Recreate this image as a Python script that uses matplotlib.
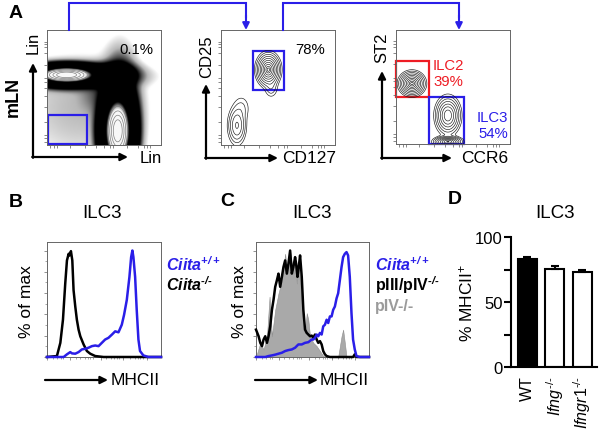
import numpy as np
import matplotlib
matplotlib.use('Agg')
import matplotlib.pyplot as plt
from matplotlib.patches import Rectangle, FancyArrowPatch
from matplotlib.lines import Line2D

plt.rcParams['font.family'] = ['Liberation Sans', 'DejaVu Sans']
plt.rcParams['mathtext.fontset'] = 'custom'
plt.rcParams['mathtext.rm'] = 'Liberation Sans'
plt.rcParams['mathtext.it'] = 'Liberation Sans:italic'
plt.rcParams['mathtext.bf'] = 'Liberation Sans:bold'
plt.rcParams['mathtext.default'] = 'regular'
HAS_BFIT = True
try:
    plt.rcParams['mathtext.bfit'] = 'Liberation Sans:italic:bold'
except KeyError:
    HAS_BFIT = False

# ------------------------------------------------------------------ data
# Panel A: populations (cx, cy, sx, sy, amplitude) in axis-fraction units
lin_pops = [(0.17, 0.61, 0.13, 0.036, 1.0),     # Lin+ band
            (0.25, 0.60, 0.21, 0.048, 0.06),    # band halo
            (0.62, 0.12, 0.062, 0.15, 1.0),     # Lin+ (x) population
            (0.64, 0.28, 0.070, 0.20, 0.05),    # its halo
            (0.60, 0.61, 0.09, 0.05, 0.04),     # corner
            (0.48, 0.45, 0.10, 0.10, 0.0025),   # inner shoulder
            (0.30, 0.33, 0.30, 0.25, 0.0009)]   # scattered cells
cd25_pops = [(0.415, 0.655, 0.042, 0.058, 1.0),
             (0.44, 0.50, 0.030, 0.045, 0.06),
             (0.14, 0.17, 0.036, 0.075, 0.25),
             (0.18, 0.32, 0.040, 0.060, 0.04)]
st2_pops = [(0.14, 0.53, 0.045, 0.042, 1.0),
            (0.455, 0.25, 0.045, 0.068, 0.7),
            (0.455, 0.02, 0.050, 0.020, 0.9)]
gate_lin = (0.01, 0.01, 0.34, 0.25)
gate_cd25 = (0.28, 0.476, 0.27, 0.344)
gate_ilc2 = (0.0, 0.41, 0.29, 0.32)
gate_ilc3 = (0.29, 0.0, 0.31, 0.41)
pct_lin = '0.1%'
pct_cd25 = '78%'
pct_ilc2 = '39%'
pct_ilc3 = '54%'

# Panel B histograms (MHCII scale 0-100, % of max)
b_ko_x = [0, 8.7, 11.7, 14.0, 16.0, 17.5, 19.0, 19.8, 21.0, 22.2, 23.3, 24.8, 26.2,
          27.7, 29.2, 32.1, 35.0, 37.9, 42.3, 49.6, 100]
b_ko_y = [0, 0.9, 13.3, 35, 69, 90.7, 97, 95.4, 99.4, 90.7, 62.8, 47.4, 35,
          25.7, 19.5, 11.8, 5.6, 3.1, 0.9, 0, 0]
b_wt_x = [0, 14.6, 17.5, 20.4, 21.9, 24.8, 27.7, 30.6, 33.5, 36.4, 39.4, 42.3, 45.2,
          48.1, 51.0, 53.9, 56.9, 59.8, 62.7, 65.6, 67.6, 70.0, 72.3, 73.8, 74.9,
          75.8, 77.3, 78.7, 80.2, 81.6, 84.5, 88.9, 100]
b_wt_y = [0, 0, 2.5, 4.6, 3.4, 3.1, 4.6, 7.1, 7.7, 8.7, 10.2, 10.8, 10.2,
          13.3, 16.4, 18, 21, 24.1, 23.2, 30.3, 39.6, 53.6, 75.2, 93.8, 100,
          93.8, 75.2, 44.3, 16.4, 5.6, 1.5, 0, 0]

# Panel C histograms
c_ko_x = [0, 2.3, 3.8, 5.3, 6.7, 8.2, 9.7, 11.1, 12.6, 14.1, 15.5, 17.0, 18.5, 19.9,
          21.4, 22.9, 24.3, 25.8, 27.3, 28.7, 30.2, 31.7, 33.1, 34.6, 35.5, 36.7,
          37.8, 39.0, 40.5, 41.9, 43.4, 44.9, 46.3, 47.8, 49.3, 50.7, 52.2, 53.7,
          55.1, 56.6, 58.1, 59.5, 61.0, 62.5, 65.4, 85.9, 87.4, 88.9, 100]
c_ko_y = [25.7, 19.5, 13.3, 10.2, 16.4, 19.5, 13.3, 19.5, 28.8, 44.3, 53.6, 65.9, 72.1,
          78.3, 65.9, 75.2, 84.5, 90.7, 78.3, 87.6, 100, 78.3, 84.5, 93.8, 87.6, 75.2,
          84.5, 95.4, 75.2, 44.3, 25.7, 22.6, 21.1, 19.5, 20.1, 18, 21.1, 16.4,
          13.3, 14.9, 11.8, 5.6, 2.5, 0.9, 0, 0, 2.5, 0, 0]
c_piv_x = [0, 3.8, 6.7, 9.7, 12.0, 14.1, 17.0, 19.9, 22.9, 25.8, 27.3, 28.7, 30.2,
           31.7, 33.1, 34.6, 36.1, 37.5, 39.0, 40.5, 41.9, 43.4, 44.9, 46.3, 47.8,
           50.7, 53.7, 56.6, 59.5, 62.5, 72.7, 75.7, 77.1, 78.6, 80.1, 100]
c_piv_y = [0, 13.3, 7.1, 19.5, 56.7, 19.5, 44.3, 59.8, 72.1, 96.9, 81.4, 90.7, 100,
           87.6, 78.3, 90.7, 69, 87.6, 75.2, 50.5, 25.7, 22.6, 41.2, 35, 19.5,
           13.3, 10.2, 5.6, 0.9, 0, 0, 19.5, 25.7, 13.3, 0, 0]
c_wt_x = [0, 8.2, 11.1, 14.1, 17.0, 19.9, 22.9, 25.8, 28.7, 31.7, 34.6, 37.5, 40.5,
          43.4, 46.3, 49.3, 50.7, 52.2, 53.7, 55.1, 56.6, 58.1, 59.5, 61.0, 62.5,
          63.9, 65.4, 66.9, 68.3, 69.8, 71.3, 72.7, 74.2, 75.7, 77.1, 78.6, 80.1,
          81.5, 83.0, 84.5, 85.9, 87.4, 88.9, 91.8, 100]
c_wt_y = [0, 0, 0.9, 1.5, 2.2, 3.1, 4.0, 5.6, 6.5, 7.1, 8.7, 11.8, 11.8,
          13.3, 13.9, 16.4, 16.4, 18, 21.1, 19.5, 22.6, 21.1, 28.8, 30.3, 35,
          31.9, 38.1, 38.1, 44.3, 47.4, 55.1, 59.8, 72.1, 84.5, 93.8, 96.9, 98.5,
          95.4, 75.2, 41.2, 16.4, 7.1, 0.9, 0, 0]

# Panel D
d_labels = ['WT', r'$\mathit{Ifng}^{‐/‐}$', r'$\mathit{Ifngr1}^{‐/‐}$']
d_means = [83, 75.5, 73]
d_errs = [1.5, 2.0, 2.0]
d_colors = ['black', 'white', 'white']
d_yticks = [0, 25, 50, 75, 100]
d_yticklabels = ['0', '', '50', '', '100']

# ------------------------------------------------------------------ layout helpers
W, H = 600, 439
fig = plt.figure(figsize=(6, 4.39), dpi=100)

BLUE = '#2a1ee8'
RED = '#ee1c24'


def rect(x0, y0, x1, y1):
    return [x0 / W, 1 - y1 / H, (x1 - x0) / W, (y1 - y0) / H]


def fp(x, y):
    return (x / W, 1 - y / H)


def ftext(x, y, s, **kw):
    kw.setdefault('ha', 'center')
    kw.setdefault('va', 'center')
    fig.text(x / W, 1 - y / H, s, **kw)


def fline(pts, color, lw):
    fig.add_artist(Line2D([p[0] / W for p in pts], [1 - p[1] / H for p in pts],
                          transform=fig.transFigure, color=color, lw=lw,
                          solid_capstyle='projecting', solid_joinstyle='miter'))


def farrow(p0, p1, color, lw, ms=11):
    fig.add_artist(FancyArrowPatch(fp(*p0), fp(*p1), transform=fig.transFigure,
                                   arrowstyle='-|>', mutation_scale=ms, color=color,
                                   lw=lw, shrinkA=0, shrinkB=0))


gx = np.linspace(0, 1, 260)
GX, GY = np.meshgrid(gx, gx)


def density(pops):
    d = np.zeros_like(GX)
    for cx, cy, sx, sy, a in pops:
        d += a * np.exp(-((GX - cx) ** 2 / (2 * sx ** 2) + (GY - cy) ** 2 / (2 * sy ** 2)))
    return d


def flow_axes(r):
    ax = fig.add_axes(r)
    ax.set_xlim(0, 1)
    ax.set_ylim(0, 1)
    ticks = [0.03, 0.06, 0.09, 0.2, 0.33, 0.43, 0.5, 0.55, 0.58, 0.7, 0.8, 0.85, 0.88, 0.9]
    ax.set_xticks(ticks)
    ax.set_yticks(ticks)
    ax.set_xticklabels([])
    ax.set_yticklabels([])
    ax.tick_params(length=2, width=0.5, color='0.35', direction='out')
    for s in ax.spines.values():
        s.set_color('0.4')
        s.set_linewidth(0.7)
    return ax


ring_radii = np.array([2.9, 2.6, 2.3, 2.0, 1.7, 1.4, 1.1, 0.8, 0.5, 0.25])
levels = np.exp(-ring_radii ** 2 / 2)

# ------------------------------------------------------------------ Panel A
ax1 = flow_axes(rect(47, 31, 161, 146))
D1 = density(lin_pops)
L1 = np.log10(D1 + 1e-9)
gray = np.interp(L1, [-3.8, -3.0, -2.5, -2.2, -0.55, -0.3], [1.0, 0.72, 0.3, 0.0, 0.0, 0.97])
ax1.imshow(gray, cmap='gray', vmin=0, vmax=1, origin='lower', extent=(0, 1, 0, 1),
           aspect='auto', interpolation='bilinear')
ax1.contour(GX, GY, D1, levels=[0.4, 0.55, 0.7, 0.85], colors='0.5', linewidths=0.5)
ax1.add_patch(Rectangle(gate_lin[:2], gate_lin[2], gate_lin[3], fill=False, ec=BLUE, lw=1.6))

ax2 = flow_axes(rect(221, 31, 335, 146))
D2 = density(cd25_pops)
ax2.contour(GX, GY, D2, levels=levels, colors='0.1', linewidths=0.45)
ax2.add_patch(Rectangle(gate_cd25[:2], gate_cd25[2], gate_cd25[3], fill=False, ec=BLUE, lw=1.6))

ax3 = flow_axes(rect(396, 31, 510, 145))
D3 = density(st2_pops)
ax3.contour(GX, GY, D3, levels=levels, colors='0.1', linewidths=0.45)
ax3.add_patch(Rectangle(gate_ilc2[:2], gate_ilc2[2], gate_ilc2[3], fill=False, ec=RED, lw=1.6, clip_on=False))
ax3.add_patch(Rectangle(gate_ilc3[:2], gate_ilc3[2], gate_ilc3[3], fill=False, ec=BLUE, lw=1.6, clip_on=False))

# gate annotations
ftext(136, 50, pct_lin, fontsize=10.7)
ftext(310, 50, pct_cd25, fontsize=10.7)
ftext(433, 66, 'ILC2', fontsize=10.7, color=RED, ha='left')
ftext(433, 82, pct_ilc2, fontsize=10.7, color=RED, ha='left')
ftext(508, 118, 'ILC3', fontsize=10.7, color=BLUE, ha='right')
ftext(508, 134, pct_ilc3, fontsize=10.7, color=BLUE, ha='right')

# blue connectors
fline([(69, 31), (69, 4), (246, 4), (246, 18)], BLUE, 1.5)
farrow((246, 16), (246, 31), BLUE, 1.5, ms=10)
fline([(283, 31), (283, 4), (459, 4), (459, 18)], BLUE, 1.5)
farrow((459, 16), (459, 31), BLUE, 1.5, ms=10)

# black axis arrows
for (cx, cy, top, right) in [(33, 158, 64, 128), (206, 159, 85, 278), (382, 159, 72, 452)]:
    farrow((cx, cy + 0.8), (cx, top), 'black', 1.6, ms=11)
    farrow((cx - 0.8, cy), (right, cy), 'black', 1.6, ms=11)

ftext(33, 43, 'Lin', fontsize=12, rotation=90)
ftext(140, 159, 'Lin', fontsize=12, ha='left')
ftext(13, 97, 'mLN', fontsize=13, fontweight='bold', rotation=90)
ftext(207, 57, 'CD25', fontsize=12, rotation=90)
ftext(282, 159, 'CD127', fontsize=12.5, ha='left')
ftext(382, 48, 'ST2', fontsize=12, rotation=90)
ftext(461, 159, 'CCR6', fontsize=12.5, ha='left')
ftext(16, 14, 'A', fontsize=14, fontweight='bold')

# ------------------------------------------------------------------ Panels B, C


def hist_axes(r):
    ax = fig.add_axes(r)
    ax.set_xlim(0, 100)
    ax.set_ylim(0, 108)
    ax.set_yticks([0, 20, 40, 60, 80, 100])
    ax.set_yticks([10, 30, 50, 70, 90], minor=True)
    ax.set_xticks([0, 20, 47, 67, 88])
    ax.set_xticks([5, 9, 12, 14, 25, 29, 33, 36, 38, 40, 52, 56, 59, 61, 63, 73, 77, 80, 82, 84], minor=True)
    ax.set_xticklabels([])
    ax.set_yticklabels([])
    ax.tick_params(which='major', length=2.5, width=0.5, color='0.4', direction='out')
    ax.tick_params(which='minor', length=1.5, width=0.4, color='0.4', direction='out')
    for s in ax.spines.values():
        s.set_color('0.4')
        s.set_linewidth(0.7)
    return ax


axB = hist_axes(rect(47, 243, 161, 358))
axB.plot(b_ko_x, b_ko_y, color='black', lw=1.8, clip_on=False, zorder=3)
axB.plot(b_wt_x, b_wt_y, color=BLUE, lw=1.8, clip_on=False, zorder=4)

axC = hist_axes(rect(256, 243, 369, 358))
axC.fill_between(c_piv_x, c_piv_y, 0, color='#a9a9a9', lw=0.4, ec='#8f8f8f', zorder=2)
axC.plot(c_ko_x, c_ko_y, color='black', lw=1.8, clip_on=False, zorder=3)
axC.plot(c_wt_x, c_wt_y, color=BLUE, lw=1.8, clip_on=False, zorder=4)

ftext(16, 203, 'B', fontsize=14, fontweight='bold')
ftext(227, 202, 'C', fontsize=14, fontweight='bold')
ftext(455, 200, 'D', fontsize=14, fontweight='bold')
ftext(102, 213, 'ILC3', fontsize=13.5)
ftext(312, 213, 'ILC3', fontsize=13.5)
ftext(555, 213, 'ILC3', fontsize=13.5)

ftext(27, 302, '% of max', fontsize=12.5, rotation=90)
ftext(239, 302, '% of max', fontsize=12.5, rotation=90)
farrow((45, 381), (108, 381), 'black', 1.6, ms=11)
farrow((255, 381), (318, 381), 'black', 1.6, ms=11)
ftext(111, 381, 'MHCII', fontsize=12.5, ha='left')
ftext(320, 381, 'MHCII', fontsize=12.5, ha='left')

cmd = r'\mathbfit' if HAS_BFIT else r'\mathbf'
sup_pp_it = '$^{' + cmd + '{+/+}}$'
sup_mm_it = '$^{' + cmd + '{‐/‐}}$'
sup_mm = r'$^{\mathbf{‐/‐}}$'
ftext(166, 265, 'Ciita' + sup_pp_it, fontsize=11.5, fontweight='bold', fontstyle='italic', color=BLUE, ha='left')
ftext(166, 285, 'Ciita' + sup_mm_it, fontsize=11.5, fontweight='bold', fontstyle='italic', color='black', ha='left')
ftext(375, 265, 'Ciita' + sup_pp_it, fontsize=11.5, fontweight='bold', fontstyle='italic', color=BLUE, ha='left')
ftext(375, 285, 'pIII/pIV' + sup_mm_it, fontsize=11.5, fontweight='bold', color='black', ha='left')
ftext(375, 307, 'pIV-/-', fontsize=11.5, fontweight='bold', color='#9b9b9b', ha='left')

# ------------------------------------------------------------------ Panel D
axD = fig.add_axes(rect(511, 238, 597, 368))
xpos = np.arange(len(d_means))
axD.bar(xpos, d_means, width=0.69, color=d_colors, edgecolor='black', lw=1.5, zorder=2)
axD.errorbar(xpos, d_means, yerr=[[0] * len(d_errs), d_errs], fmt='none', ecolor='black',
             elinewidth=1.5, capsize=3, capthick=1.5, zorder=3)
axD.set_xlim(-0.6, 2.53)
axD.set_ylim(0, 100)
axD.set_yticks(d_yticks)
axD.set_yticklabels(d_yticklabels, fontsize=12)
axD.set_xticks(xpos)
axD.set_xticklabels(d_labels, rotation=90, fontsize=11.5)
axD.tick_params(axis='y', length=5, width=1.5, pad=1)
axD.tick_params(axis='x', length=0, pad=6)
for s in ['top', 'right']:
    axD.spines[s].set_visible(False)
for s in ['left', 'bottom']:
    axD.spines[s].set_linewidth(1.5)
ftext(466, 303, r'% MHCII$^{+}$', fontsize=12.5, rotation=90)

fig.savefig('out.png', dpi=100)
